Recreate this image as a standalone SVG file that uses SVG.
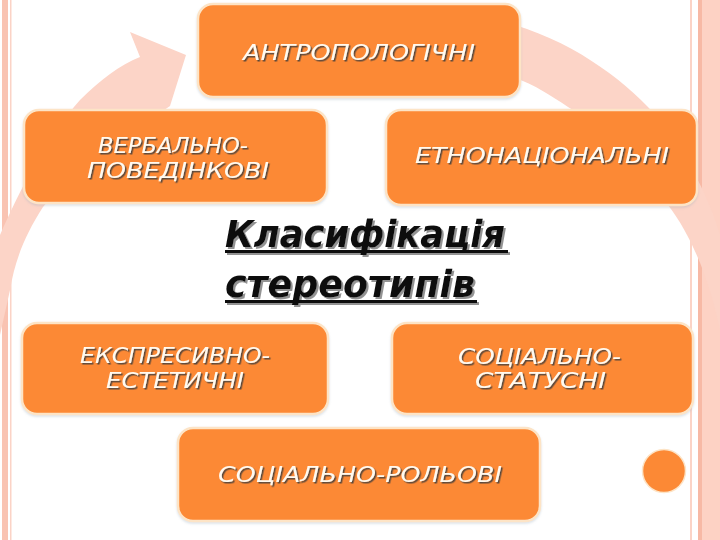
<svg xmlns="http://www.w3.org/2000/svg" width="720" height="540" viewBox="0 0 720 540">
<defs>
<style>
.box{fill:#fc8935;stroke:#fde4c6;stroke-width:2.5}
.lbl{font-family:"DejaVu Sans","Liberation Sans",sans-serif;font-style:italic;font-size:22px;fill:#fffaf0}
.ttl{font-family:"DejaVu Sans","Liberation Sans",sans-serif;font-style:italic;font-weight:bold;font-size:37px;fill:#111}
.arc{fill:#fcd4c7}
</style>
<filter id="ts" x="-10%" y="-30%" width="120%" height="160%">
<feDropShadow dx="1.5" dy="1.5" stdDeviation="0.4" flood-color="#3c3c3c" flood-opacity="0.85"/>
</filter>
<filter id="tt" x="-10%" y="-30%" width="120%" height="160%">
<feDropShadow dx="2" dy="2" stdDeviation="0.6" flood-color="#777" flood-opacity="0.8"/>
</filter>
<filter id="bs" x="-5%" y="-10%" width="110%" height="125%">
<feDropShadow dx="0" dy="1.5" stdDeviation="1.2" flood-color="#9ab" flood-opacity="0.35"/>
</filter>
</defs>
<rect width="720" height="540" fill="#ffffff"/>
<g id="frame">
<rect x="2" y="0" width="6" height="540" fill="#f9c3b2"/>
<rect x="10" y="0" width="1.5" height="540" fill="#fbd3c6"/>
<rect x="690" y="0" width="2" height="540" fill="#fbd3c6"/>
<rect x="698" y="0" width="4" height="540" fill="#f7b9a5"/>
<rect x="702" y="0" width="18" height="540" fill="#fdd2c4"/>
</g>
<g id="connectors">
<path class="arc" d="M130,32 L186,55 L170,106 C120,140 70,175 43,207 C25,235 15,260 10,290 L0,335 L0,235 C20,190 45,140 80,100 C100,80 120,65 140,57 Z"/>
<path class="arc" d="M515,25 C580,45 630,85 660,120 C690,160 710,200 720,235 L720,330 C712,290 695,240 668,205 C640,165 600,125 568,107 C550,95 535,85 515,78 Z"/>
</g>
<g id="n-antrop" filter="url(#bs)">
<rect class="box" x="198" y="4" width="322" height="93" rx="15"/>
<text class="lbl" x="243" y="60" textLength="232" lengthAdjust="spacingAndGlyphs" filter="url(#ts)">АНТРОПОЛОГІЧНІ</text>
</g>
<g id="n-verbal" filter="url(#bs)">
<rect class="box" x="24" y="110" width="303" height="93" rx="15"/>
<text class="lbl" filter="url(#ts)"><tspan x="98" y="153" textLength="150" lengthAdjust="spacingAndGlyphs">ВЕРБАЛЬНО-</tspan><tspan x="87" y="178" textLength="182" lengthAdjust="spacingAndGlyphs">ПОВЕДІНКОВІ</tspan></text>
</g>
<g id="n-etno" filter="url(#bs)">
<rect class="box" x="386" y="110" width="311" height="95" rx="15"/>
<text class="lbl" x="415" y="163" textLength="254" lengthAdjust="spacingAndGlyphs" filter="url(#ts)">ЕТНОНАЦІОНАЛЬНІ</text>
</g>
<g id="title" filter="url(#tt)">
<text class="ttl" x="225" y="247" textLength="280" lengthAdjust="spacingAndGlyphs">Класифікація</text>
<rect x="225" y="250" width="283" height="3" fill="#111"/>
<text class="ttl" x="225" y="297" textLength="250" lengthAdjust="spacingAndGlyphs">стереотипів</text>
<rect x="225" y="300" width="252" height="3" fill="#111"/>
</g>
<g id="n-ekspres" filter="url(#bs)">
<rect class="box" x="22" y="323" width="306" height="91" rx="15"/>
<text class="lbl" filter="url(#ts)"><tspan x="80" y="363" textLength="190" lengthAdjust="spacingAndGlyphs">ЕКСПРЕСИВНО-</tspan><tspan x="106" y="388" textLength="138" lengthAdjust="spacingAndGlyphs">ЕСТЕТИЧНІ</tspan></text>
</g>
<g id="n-status" filter="url(#bs)">
<rect class="box" x="392" y="323" width="301" height="91" rx="15"/>
<text class="lbl" filter="url(#ts)"><tspan x="458" y="364" textLength="163" lengthAdjust="spacingAndGlyphs">СОЦІАЛЬНО-</tspan><tspan x="475" y="388" textLength="131" lengthAdjust="spacingAndGlyphs">СТАТУСНІ</tspan></text>
</g>
<g id="n-rol" filter="url(#bs)">
<rect class="box" x="178" y="428" width="362" height="93" rx="15"/>
<text class="lbl" x="218" y="482" textLength="284" lengthAdjust="spacingAndGlyphs" filter="url(#ts)">СОЦІАЛЬНО-РОЛЬОВІ</text>
</g>
<g id="dot">
<circle cx="664" cy="471" r="21.5" fill="#fc8935" stroke="#fde4c6" stroke-width="1.5"/>
</g>
</svg>
